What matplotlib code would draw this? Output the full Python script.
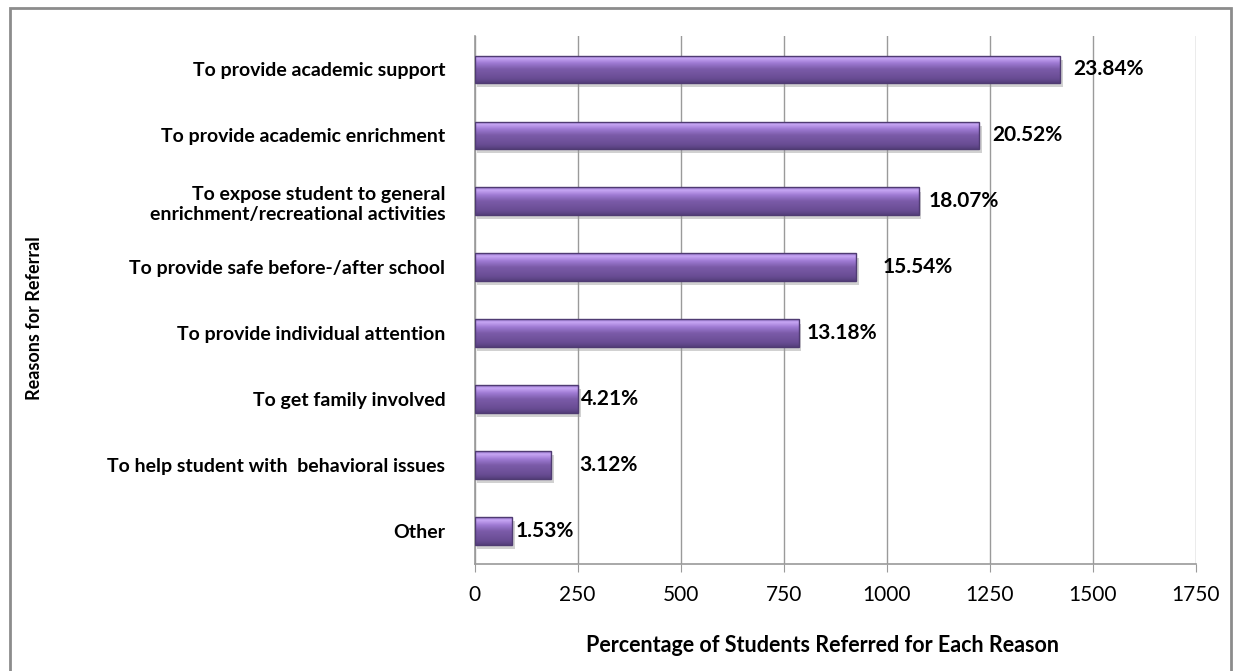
import numpy as np
import matplotlib.pyplot as plt
import matplotlib.patheffects as pe
from matplotlib.colors import LinearSegmentedColormap
from matplotlib.patches import Rectangle

# data
reasons = ["To provide academic support",
           "To provide academic enrichment",
           "To expose student to general\nenrichment/recreational activities",
           "To provide safe before-/after school",
           "To provide individual attention",
           "To get family involved",
           "To help student with  behavioral issues",
           "Other"]
students = [1421, 1223, 1077, 926, 786, 251, 186, 91]
pct_labels = ["23.84%", "20.52%", "18.07%", "15.54%", "13.18%", "4.21%", "3.12%", "1.53%"]
xticks = [0, 250, 500, 750, 1000, 1250, 1500, 1750]

# label gap after bar end (pixels), as placed in the original
label_gap = [13, 14, 10, 26, 8, 3, 28, 4]

plt.rcParams['font.family'] = ['Lato', 'DejaVu Sans']

fig = plt.figure(figsize=(12.33, 6.71), dpi=100)
ax = fig.add_axes([474.5/1233, 1 - 564/671, (1196 - 474.5)/1233, (564 - 36.5)/671])

y = np.arange(len(reasons))
bars = ax.barh(y, students, height=0.42, color='#7a5aa8', linewidth=0, zorder=3,
               path_effects=[pe.SimplePatchShadow(offset=(2, -3), shadow_rgbFace='#9a9a9a', alpha=0.45),
                             pe.Normal()])

# bevel-like vertical gradient inside each bar
cmap = LinearSegmentedColormap.from_list('bevel', [(0, '#8f70c4'), (0.1, '#c7a6f4'), (0.28, '#9f7bd4'),
                                                   (0.5, '#7b5ba9'), (0.85, '#684c93'), (1, '#553f7b')])
grad = np.linspace(0, 1, 64).reshape(-1, 1)
for b in bars:
    x0, y0 = b.get_x(), b.get_y()
    w, h = b.get_width(), b.get_height()
    im = ax.imshow(grad, cmap=cmap, aspect='auto', extent=(x0, x0 + w, y0 + h, y0), zorder=3.5)
    im.set_clip_path(b)
ax.barh(y, students, height=0.42, fill=False, edgecolor='#4f3b72', linewidth=1, zorder=4)

for i in range(len(students)):
    ax.annotate(pct_labels[i], (students[i], y[i]), xytext=(label_gap[i] * 0.72, 0),
                textcoords='offset points', va='center', ha='left',
                fontsize=15, fontweight='bold', color='black', zorder=5)

ax.set_xlim(0, 1750)
ax.set_ylim(len(reasons) - 0.5, -0.5)
ax.set_xticks(xticks)
ax.set_yticks(y)
ax.set_yticklabels(reasons, fontsize=14, fontweight='bold')
ax.set_axisbelow(True)
ax.xaxis.grid(True, color='#9a9a9a', linewidth=1)

for s in ['top', 'right']:
    ax.spines[s].set_visible(False)
for s in ['left', 'bottom']:
    ax.spines[s].set_color('#9a9a9a')
    ax.spines[s].set_linewidth(1.2)

ax.tick_params(axis='x', length=6, color='#9a9a9a', labelsize=15, pad=9)
ax.tick_params(axis='y', length=0, pad=21)

# axis titles
fig.text(822/1233, 1 - 645/671, "Percentage of Students Referred for Each Reason", fontsize=15.5,
         fontweight='bold', ha='center', va='center')
fig.text(35/1233, 1 - 318/671, "Reasons for Referral", rotation=90, fontsize=13, fontweight='bold',
         ha='center', va='center')

# grey frame round the chart
fig.patches.append(Rectangle((10/1233, -0.05), (1231 - 10)/1233, (671 - 8)/671 + 0.05,
                             transform=fig.transFigure, fill=False, edgecolor='#8c8c8c', linewidth=2))

fig.savefig('out.png', dpi=100)
